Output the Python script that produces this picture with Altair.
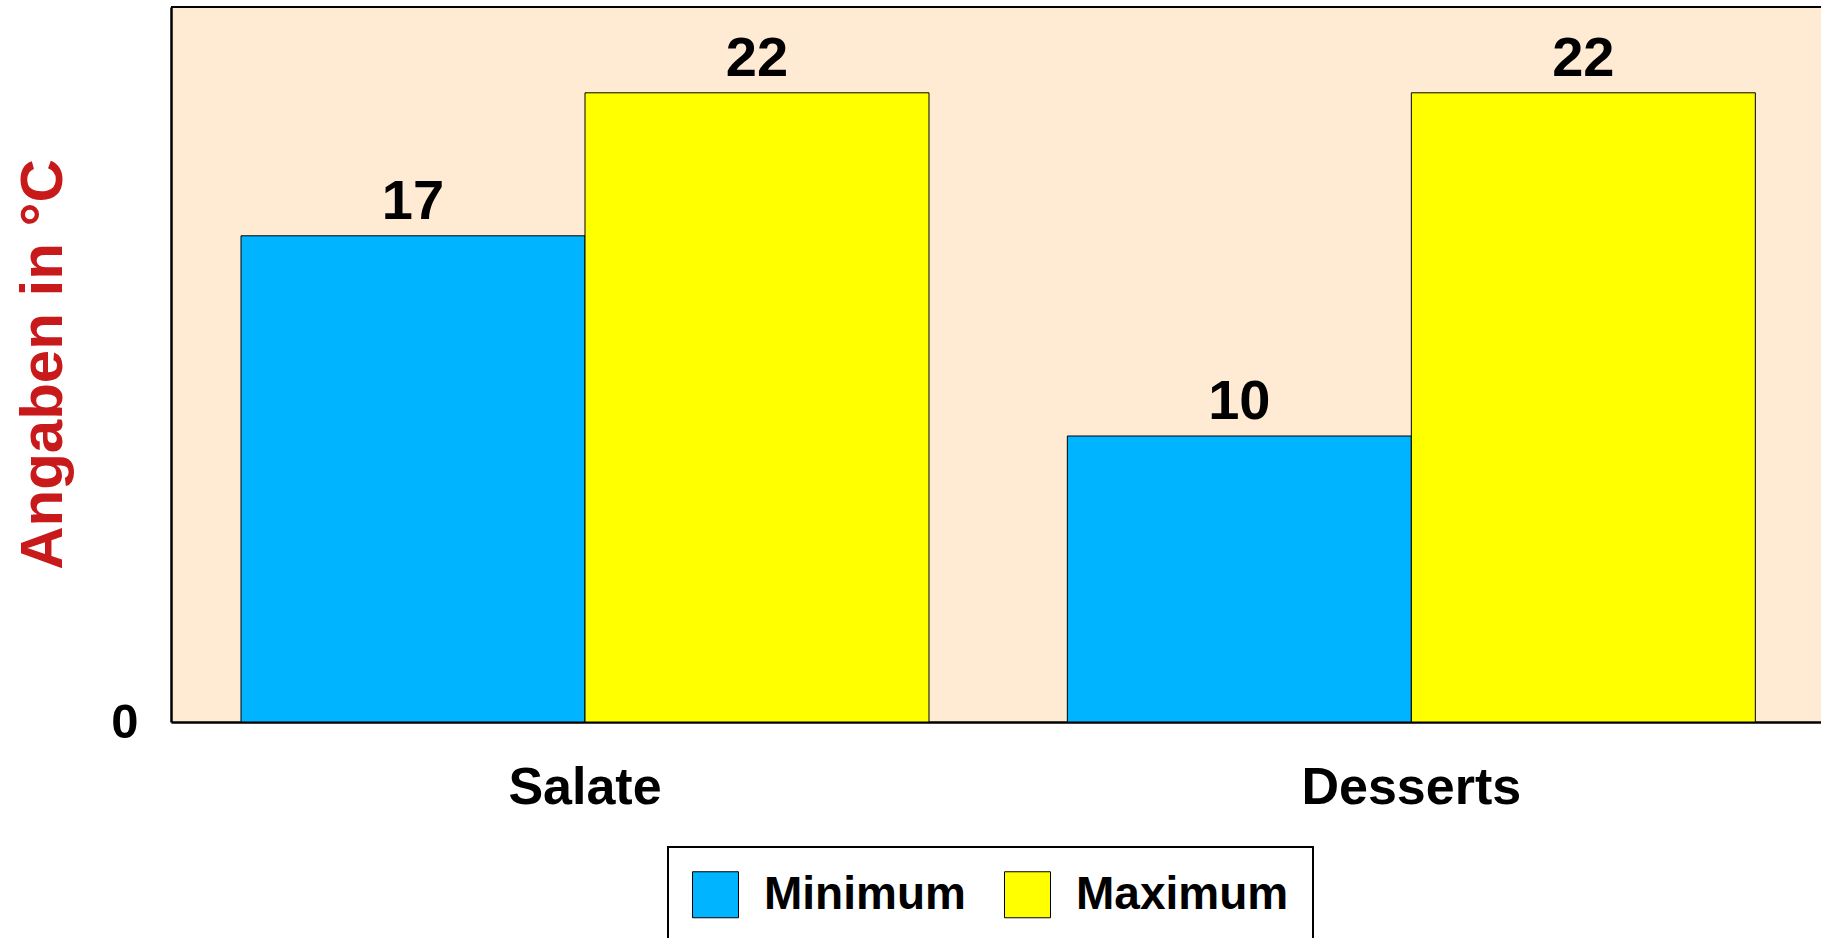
import altair as alt
import pandas as pd

categories = ["Salate", "Desserts"]
series = ["Minimum", "Maximum"]
minimum = [17, 10]
maximum = [22, 22]

rows = []
for i, c in enumerate(categories):
    rows.append({"Kategorie": c, "Serie": "Minimum", "Wert": minimum[i]})
    rows.append({"Kategorie": c, "Serie": "Maximum", "Wert": maximum[i]})
df = pd.DataFrame(rows)

FONT = "Liberation Sans"

x_enc = alt.X(
    "Kategorie:N",
    sort=categories,
    scale=alt.Scale(paddingInner=0.1674, paddingOuter=0.0821, align=0.516),
    axis=alt.Axis(
        title=None, labelAngle=0, ticks=False, tickSize=0, domain=True,
        domainColor="black", domainWidth=2.5, labelFont=FONT, labelFontSize=52,
        labelFontWeight="bold", labelColor="black", labelBaseline="alphabetic",
        labelPadding=81, labelLimit=600,
    ),
)
y_enc = alt.Y(
    "Wert:Q",
    scale=alt.Scale(domain=[0, 25], nice=False, zero=True),
    axis=alt.Axis(
        title="Angaben in °C", values=[0], ticks=False, tickSize=0, grid=False,
        domain=True, domainColor="black", domainWidth=2.5,
        labelFont=FONT, labelFontSize=49, labelFontWeight="bold", labelColor="black",
        labelPadding=33, labelBaseline="middle",
        titleFont=FONT, titleFontSize=60, titleFontWeight="bold", titleColor="#C8191B",
        titleAngle=270, titleX=-110, titleY=357, titleAlign="center",
        titleBaseline="alphabetic",
    ),
)
xoff = alt.XOffset("Serie:N", sort=series, scale=alt.Scale(paddingInner=0, paddingOuter=0))

bars = alt.Chart(df).mark_bar(stroke="black", strokeWidth=1).encode(
    x=x_enc,
    xOffset=xoff,
    y=y_enc,
    color=alt.Color(
        "Serie:N",
        sort=series,
        scale=alt.Scale(domain=series, range=["#00B4FF", "#FFFF00"]),
        legend=alt.Legend(
            title=None, orient="none", legendX=497, legendY=840, direction="horizontal",
            strokeColor="black", padding=24, fillColor="white",
            symbolType="square", symbolSize=2116,
            symbolStrokeColor="black", symbolStrokeWidth=1, symbolOpacity=1,
            labelFont=FONT, labelFontSize=46, labelFontWeight="bold",
            labelColor="black", labelOffset=25, columnPadding=36, labelLimit=400,
        ),
    ),
)

labels = alt.Chart(df).mark_text(
    font=FONT, fontSize=56, fontWeight="bold", color="black",
    baseline="alphabetic", align="center", dy=-17,
).encode(
    x=alt.X("Kategorie:N", sort=categories),
    xOffset=alt.XOffset("Serie:N", sort=series),
    y=alt.Y("Wert:Q"),
    text=alt.Text("Wert:Q"),
)

top_border = alt.Chart(df).mark_rule(color="black", strokeWidth=1.5).encode(
    x=alt.value(0), x2=alt.value(1650), y=alt.value(0)
)

chart = (
    alt.layer(bars, labels, top_border)
    .properties(
        width=1650, height=715,
        autosize=alt.AutoSizeParams(type="none"),
        padding={"left": 171, "top": 7, "right": 0, "bottom": 216},
        background="white",
    )
    .configure_view(fill="#FFEAD3", strokeWidth=0)
    .configure_legend(strokeWidth=2)
)

chart.save("out.html", embed_options={"renderer": "svg", "actions": False})
